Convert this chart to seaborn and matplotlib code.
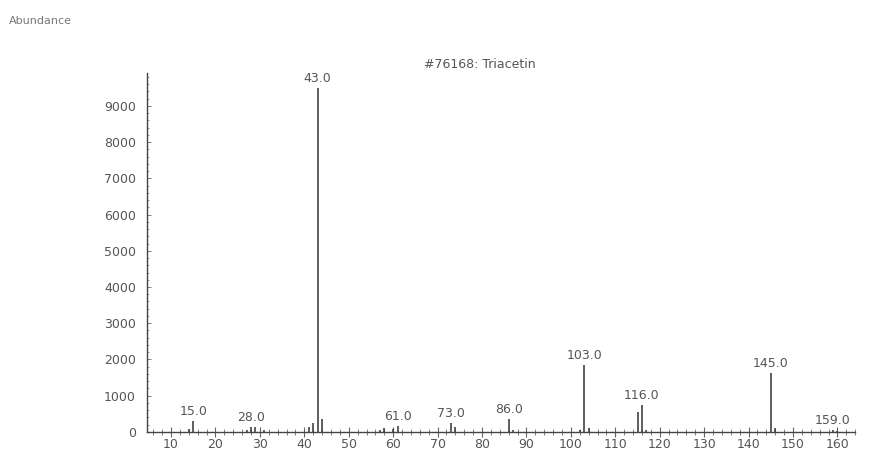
import matplotlib
matplotlib.use("Agg")
import matplotlib.pyplot as plt
import seaborn as sns
import pandas as pd
from matplotlib.ticker import MultipleLocator

# Mass spectrum of Triacetin
mz = [14, 15, 27, 28, 29, 31, 41, 42, 43, 44, 57, 58, 60, 61, 73, 74, 86, 87,
      102, 103, 104, 115, 116, 117, 145, 146, 159, 160]
abundance = [80, 300, 60, 130, 150, 60, 150, 250, 9500, 350, 60, 100, 80, 160,
             250, 130, 350, 50, 60, 1850, 100, 550, 750, 60, 1620, 100, 60, 30]
labelled = [15, 28, 43, 61, 73, 86, 103, 116, 145, 159]

df = pd.DataFrame({'mz': mz, 'abundance': abundance})

sns.set_style('ticks')
plt.rcParams['font.family'] = ['DejaVu Sans']

grey = '#555555'
fig = plt.figure(figsize=(8.7, 4.63), dpi=100)
ax = fig.add_axes([0.169, 0.067, 0.814, 0.775])

ax.vlines(df['mz'], 0, df['abundance'], color='#333333', linewidth=1.1)

for _, row in df[df['mz'].isin(labelled)].iterrows():
    ax.text(row['mz'], row['abundance'] + 80, f"{row['mz']:.1f}",
            ha='center', va='bottom', fontsize=9, color=grey)

ax.set_xlim(4.6, 164)
ax.set_ylim(0, 9900)
ax.xaxis.set_major_locator(MultipleLocator(10))
ax.xaxis.set_minor_locator(MultipleLocator(2))
ax.yaxis.set_major_locator(MultipleLocator(1000))
ax.yaxis.set_minor_locator(MultipleLocator(200))
ax.tick_params(axis='x', which='major', direction='inout', length=7, width=0.8,
               colors='#666666', labelcolor=grey, labelsize=9, pad=1)
ax.tick_params(axis='x', which='minor', direction='inout', length=4, width=0.6,
               colors='#666666')
ax.tick_params(axis='y', which='major', direction='in', length=3, width=0.6,
               colors='#666666', labelcolor=grey, labelsize=9, pad=8)
ax.tick_params(axis='y', which='minor', direction='in', length=1.5, width=0.5,
               colors='#666666')
sns.despine(ax=ax)
for s in ['left', 'bottom']:
    ax.spines[s].set_color('#444444')
    ax.spines[s].set_linewidth(1.0)

ax.text(0.47, 1.005, '#76168: Triacetin', transform=ax.transAxes,
        ha='center', va='bottom', fontsize=9, color=grey)
fig.text(0.01, 0.955, 'Abundance', ha='left', va='center', fontsize=8,
         color='#777777')

fig.savefig('out.png', dpi=100)
